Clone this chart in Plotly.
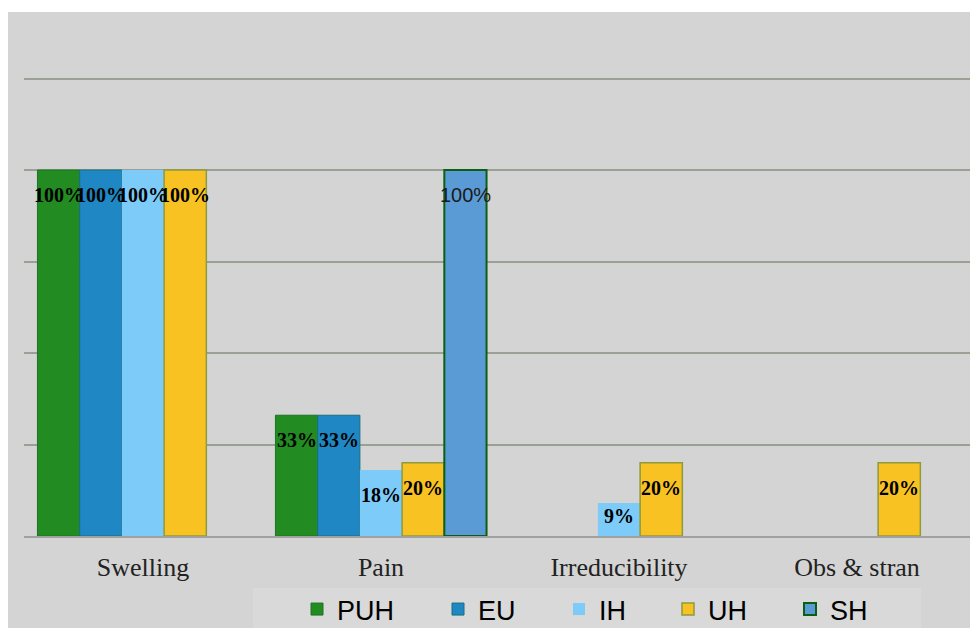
import plotly.graph_objects as go

categories = ["Swelling", "Pain", "Irreducibility", "Obs & stran"]
series_names = ["PUH", "EU", "IH", "UH", "SH"]
puh = [1.00, 0.33, None, None]
eu = [1.00, 0.33, None, None]
ih = [1.00, 0.18, 0.09, None]
uh = [1.00, 0.20, 0.20, 0.20]
sh = [None, 1.00, None, None]
values = [puh, eu, ih, uh, sh]

fills = ["#228B22", "#1F87C3", "#7CCBF9", "#F8C322", "#5B9BD5"]
borders = ["#1C7424", "#1A6E80", "#7CCBF9", "#8E9A3C", "#0B5E12"]
border_w = [1, 1, 0, 1.5, 2]
legend_left_px = [297, 438, 559, 668, 790]

BARGAP = 0.113
W, H = 970, 628
ML, MR, MT, MB = 24, 0, 12, 92
PW = W - ML - MR
PH = H - MT - MB

fig = go.Figure()
for i, (name, vals, fc, bc, bw) in enumerate(zip(series_names, values, fills, borders, border_w)):
    fig.add_trace(go.Bar(
        x=categories, y=vals, name=name,
        marker=dict(color=fc, line=dict(color=bc, width=bw)),
        hoverinfo="skip",
        legend="legend" if i == 0 else f"legend{i+1}",
    ))

# value labels
n = len(series_names)
bw_unit = (1 - BARGAP) / n
annotations = []
for i, (name, vals) in enumerate(zip(series_names, values)):
    for ci, v in enumerate(vals):
        if v is None:
            continue
        xpos = ci + (i - (n - 1) / 2) * bw_unit
        if name == "SH":
            font = dict(family="Liberation Sans, Arial, sans-serif", size=20, color="#1a1a1a")
            txt = f"{round(v*100)}%"
        else:
            font = dict(family="Liberation Serif, Times New Roman, serif", size=20, color="black")
            txt = f"<b>{round(v*100)}%</b>"
        annotations.append(dict(
            x=xpos, y=v, xref="x", yref="y", text=txt, showarrow=False,
            xanchor="center", yanchor="top", yshift=-12 if v > 0.12 else 0,
            font=font,
        ))

shapes = [
    dict(type="rect", xref="paper", yref="paper",
         x0=(8 - ML) / PW, x1=1.02, y0=-0.25, y1=1.0,
         fillcolor="#D4D4D4", line=dict(width=0), layer="below"),
    dict(type="rect", xref="paper", yref="paper",
         x0=(253 - ML) / PW, x1=(921 - ML) / PW, y0=-0.25, y1=(536 - 588) / PH,
         fillcolor="#D9D9D9", line=dict(width=0), layer="below"),
]

legend_common = dict(
    orientation="h", xanchor="left",
    y=(536 - 585) / PH, yanchor="top",
    bgcolor="rgba(0,0,0,0)",
    font=dict(family="Liberation Sans, Arial, sans-serif", size=27, color="black"),
)
legends = {}
for i, lx in enumerate(legend_left_px):
    key = "legend" if i == 0 else f"legend{i+1}"
    legends[key] = dict(legend_common, x=(lx - ML) / PW)

fig.update_layout(
    width=W, height=H,
    margin=dict(l=ML, r=MR, t=MT, b=MB, pad=0, autoexpand=False),
    paper_bgcolor="white",
    plot_bgcolor="rgba(0,0,0,0)",
    barmode="group", bargap=BARGAP, bargroupgap=0,
    showlegend=True,
    xaxis=dict(
        range=[-0.5, -0.5 + PW / 238.0],
        showline=True, linecolor="#A0A0A0", linewidth=2,
        showgrid=False, zeroline=False,
        ticks="", ticklabelstandoff=7,
        tickfont=dict(family="Liberation Serif, Times New Roman, serif", size=26, color="#222222"),
    ),
    yaxis=dict(
        range=[0, PH / 366.0],
        showticklabels=False, showgrid=True, gridcolor="#98A194", gridwidth=2,
        tick0=0, dtick=0.25, zeroline=False, showline=False, ticks="",
    ),
    annotations=annotations,
    shapes=shapes,
    **legends,
)

fig.write_html("out.html")
